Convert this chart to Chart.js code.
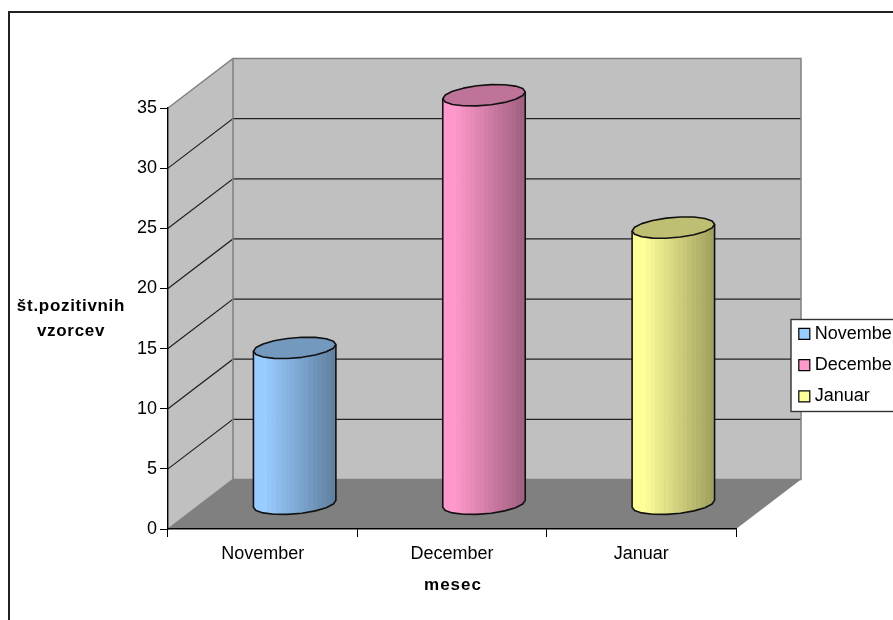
<!DOCTYPE html>
<html lang="sl">
<head>
<meta charset="utf-8">
<title>Pozitivni vzorci po mesecih</title>
<style>
  html, body { margin: 0; padding: 0; background: #fff; overflow: hidden; }
  #wrap { position: relative; width: 893px; height: 620px; }
</style>
<script src="https://cdn.jsdelivr.net/npm/chart.js@4"></script>
</head>
<body>
<div id="wrap"><canvas id="chart" width="893" height="620"></canvas></div>
<script>
// Chart content
const months = ['November', 'December', 'Januar'];
const positiveSamples = [13, 34, 23];
const monthColors = ['#99CCFF', '#FF99CC', '#FFFF99'];
const yTitleLines = ['št.pozitivnih', 'vzorcev'];
const xTitle = 'mesec';
const yTickStep = 5;
const yMax = 35;

// Depth of the box the columns stand in
const DEPTH_X = 65;
const DEPTH_Y = -49.5;
const FONT = '"Liberation Sans", Arial, sans-serif';

function shade(hex, f) {
  const n = parseInt(hex.slice(1), 16);
  const c = [(n >> 16) & 255, (n >> 8) & 255, n & 255].map(v => Math.round(v * f));
  return `rgb(${c[0]},${c[1]},${c[2]})`;
}

// Point on the slanted rim of a column; t runs around the ellipse
function rimPoint(cx, cy, a, t) {
  return [cx + a * Math.cos(t), cy + 10.2 * Math.sin(t) - 3.4 * Math.cos(t)];
}

function traceRim(ctx, cx, cy, a, from, to, steps, move) {
  for (let i = 0; i <= steps; i++) {
    const t = from + (to - from) * i / steps;
    const p = rimPoint(cx, cy, a, t);
    if (i === 0 && move) ctx.moveTo(p[0], p[1]); else ctx.lineTo(p[0], p[1]);
  }
}

// Bars rendered as shaded cylinders, placed from the elements the bar controller laid out
class CylinderController extends Chart.BarController {
  draw() {
    const ctx = this.chart.ctx;
    const meta = this.getMeta();
    meta.data.forEach((bar, i) => {
      const color = this.getDataset().backgroundColor[i];
      const cx = bar.x + DEPTH_X / 2 - 0.5;
      const top = bar.y + DEPTH_Y / 2;
      const bottom = bar.base + DEPTH_Y / 2;
      const a = bar.width / 2;
      const left = cx - a;

      ctx.save();
      ctx.beginPath();
      traceRim(ctx, cx, bottom, a, 0, Math.PI, 9, true);
      traceRim(ctx, cx, top, a, Math.PI, 2 * Math.PI, 9, false);
      ctx.closePath();
      ctx.save();
      ctx.clip();
      const strips = 18;
      for (let s = 0; s < strips; s++) {
        const u = (s + 0.5) / strips;
        const f = u < 0.14 ? 1 : 1 - 0.38 * (u - 0.14) / 0.86;
        ctx.fillStyle = shade(color, f);
        ctx.fillRect(left + s * bar.width / strips, top - 20, bar.width / strips + 0.6, bottom - top + 40);
      }
      ctx.restore();

      ctx.lineJoin = 'round';
      ctx.lineWidth = 1.6;
      ctx.strokeStyle = '#111';
      ctx.beginPath();
      traceRim(ctx, cx, top, a, Math.PI, Math.PI, 1, true);
      traceRim(ctx, cx, bottom, a, Math.PI, 0, 9, false);
      traceRim(ctx, cx, top, a, 0, 0, 1, false);
      ctx.stroke();

      ctx.beginPath();
      traceRim(ctx, cx, top, a, 0, 2 * Math.PI, 18, true);
      ctx.closePath();
      ctx.fillStyle = shade(color, 0.75);
      ctx.fill();
      ctx.stroke();
      ctx.restore();
    });
  }
}
CylinderController.id = 'cylinder';
CylinderController.defaults = Chart.BarController.defaults;
Chart.register(CylinderController);

// Outer frame, walls, floor and gridlines of the box; also the axis titles
const boxPlugin = {
  id: 'box',
  beforeLayout(chart) {
    // The legend floats over the plot, so it takes no room in the layout
    if (chart.legend && chart.boxes.includes(chart.legend)) Chart.layouts.removeBox(chart, chart.legend);
  },
  afterLayout(chart) {
    const legend = chart.legend;
    legend.update(200, 93, { left: 0, top: 0, right: 0, bottom: 0 });
    legend.left = 789.5;
    legend.right = legend.left + 200;
    legend.top = 311.5;
    legend.bottom = legend.top + 200;
  },
  beforeDraw(chart) {
    const { ctx, chartArea: area, scales } = chart;
    const y = scales.y;
    ctx.save();
    ctx.fillStyle = '#fff';
    ctx.fillRect(0, 0, chart.width, chart.height);

    ctx.strokeStyle = '#222';
    ctx.lineWidth = 2;
    ctx.beginPath();
    ctx.moveTo(9, chart.height + 5);
    ctx.lineTo(9, 12);
    ctx.lineTo(chart.width + 5, 12);
    ctx.stroke();

    const x0 = area.left, x1 = area.right, yt = y.getPixelForValue(yMax), yb = y.getPixelForValue(0);
    const bx0 = x0 + DEPTH_X, bx1 = x1 + DEPTH_X, byt = yt + DEPTH_Y, byb = yb + DEPTH_Y;

    const poly = (pts, fill) => {
      ctx.beginPath();
      pts.forEach((p, i) => i ? ctx.lineTo(p[0], p[1]) : ctx.moveTo(p[0], p[1]));
      ctx.closePath();
      ctx.fillStyle = fill;
      ctx.fill();
    };
    poly([[x0, yb], [x1, yb], [bx1, byb], [bx0, byb]], '#808080');
    poly([[x0, yt], [bx0, byt], [bx0, byb], [x0, yb]], '#C0C0C0');
    poly([[bx0, byt], [bx1, byt], [bx1, byb], [bx0, byb]], '#C0C0C0');

    ctx.lineWidth = 1.2;
    ctx.strokeStyle = '#222';
    for (let v = yTickStep; v < yMax; v += yTickStep) {
      const py = y.getPixelForValue(v);
      ctx.beginPath();
      ctx.moveTo(x0, py);
      ctx.lineTo(bx0, py + DEPTH_Y);
      ctx.lineTo(bx1, py + DEPTH_Y);
      ctx.stroke();
    }

    ctx.lineWidth = 1.5;
    ctx.strokeStyle = '#808080';
    ctx.beginPath();
    ctx.moveTo(x0, yt);
    ctx.lineTo(bx0, byt);
    ctx.lineTo(bx1, byt);
    ctx.lineTo(bx1, byb);
    ctx.lineTo(bx0, byb);
    ctx.lineTo(x0, yb);
    ctx.moveTo(bx0, byt);
    ctx.lineTo(bx0, byb);
    ctx.stroke();

    // Legend panel; runs off the right edge of the canvas
    ctx.fillStyle = '#fff';
    ctx.strokeStyle = '#333';
    ctx.lineWidth = 1.4;
    ctx.fillRect(791, 319.5, 130, 92);
    ctx.strokeRect(791, 319.5, 130, 92);

    // Axis titles
    ctx.fillStyle = '#000';
    ctx.font = `bold 17px ${FONT}`;
    ctx.textAlign = 'center';
    ctx.textBaseline = 'middle';
    ctx.letterSpacing = '0.7px';
    yTitleLines.forEach((line, i) => ctx.fillText(line, 71, 306 + i * 25));
    ctx.letterSpacing = '1px';
    ctx.fillText(xTitle, 453, 585.5);
    ctx.restore();
  }
};

const legendDrawPlugin = {
  id: 'legendDraw',
  beforeDatasetsDraw(chart) { chart.legend.draw(chart.chartArea); }
};

new Chart(document.getElementById('chart'), {
  type: 'cylinder',
  data: {
    labels: months,
    datasets: [{
      label: 'št.pozitivnih vzorcev',
      data: positiveSamples,
      backgroundColor: monthColors,
      barPercentage: 0.72,
      categoryPercentage: 0.605,
      clip: false
    }]
  },
  plugins: [boxPlugin, legendDrawPlugin],
  options: {
    responsive: false,
    animation: false,
    layout: { padding: { top: 108, right: 157, left: 0, bottom: 0 } },
    plugins: {
      tooltip: { enabled: false },
      legend: {
        display: true,
        position: 'right',
        align: 'start',
        labels: {
          usePointStyle: true,
          pointStyle: 'rect',
          boxWidth: 3,
          boxHeight: 11,
          padding: 13.3,
          color: '#000',
          font: { family: FONT, size: 18 },
          generateLabels: () => months.map((m, i) => ({
            text: m,
            fillStyle: monthColors[i],
            strokeStyle: '#000',
            lineWidth: 1.2,
            pointStyle: 'rect',
            datasetIndex: 0,
            index: i
          }))
        }
      }
    },
    scales: {
      x: {
        afterFit(s) { s.height = 91; },
        offset: true,
        grid: {
          drawOnChartArea: false, drawTicks: true, tickLength: 8, color: '#000', offset: true,
          lineWidth: 1
        },
        border: { color: '#000', width: 1.4 },
        ticks: { color: '#000', font: { family: FONT, size: 18 }, padding: 6, maxRotation: 0 }
      },
      y: {
        afterFit(s) { s.width = 168; },
        min: 0,
        max: yMax,
        grid: { drawOnChartArea: false, drawTicks: true, tickLength: 8, color: '#000', lineWidth: 1 },
        border: { color: '#000', width: 1.4 },
        ticks: { stepSize: yTickStep, color: '#000', font: { family: FONT, size: 18 }, padding: 3 }
      }
    }
  }
});
</script>
</body>
</html>
